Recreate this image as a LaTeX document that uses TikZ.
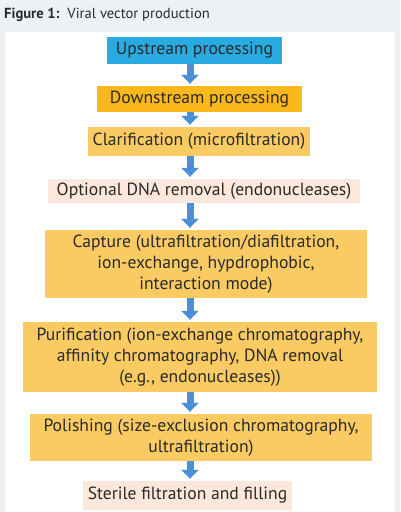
\documentclass[tikz,border=0pt]{standalone}
\usepackage{fontspec}
\setmainfont{PT Sans}
\usetikzlibrary{arrows.meta}
\definecolor{bgc}{HTML}{EDF1F6}
\definecolor{upc}{HTML}{29AAE1}
\definecolor{downc}{HTML}{FBB81C}
\definecolor{stepc}{HTML}{F9CB62}
\definecolor{peachc}{HTML}{FCE8DA}
\definecolor{arrc}{HTML}{4A8FD8}
\definecolor{txtc}{HTML}{2A2A2A}
\tikzset{
  box/.style={rectangle, inner sep=0pt, align=center, text=txtc, font=\fontsize{17.6}{21}\selectfont},
  flow/.style={arrc, line width=7pt, -{Triangle[width=17pt,length=9pt]}, shorten >=2pt},
}
\begin{document}
\begin{tikzpicture}[x=1pt,y=-1pt]
\fill[bgc] (0,0) rectangle (400,512);
\useasboundingbox (0,0) rectangle (400,512);
\fill[white] (5,32) rectangle (395,512);
\node[anchor=west, text=txtc, font=\fontsize{14.6}{16}\selectfont, inner sep=0pt] (title) at (4,15) {\textbf{Figure 1:}\ \ Viral vector production};
\node[box, fill=upc, minimum width=175, minimum height=27] (up) at (194.5,50.5) {Upstream processing};
\node[box, fill=downc, minimum width=205, minimum height=26] (down) at (199.5,99) {Downstream processing};
\node[box, fill=stepc, minimum width=222, minimum height=29] (clar) at (199,141.5) {Clarification (microfiltration)};
\node[box, fill=peachc, minimum width=312, minimum height=24] (dna) at (204,191) {Optional DNA removal (endonucleases)};
\node[box, fill=stepc, minimum width=322, minimum height=68] (cap) at (206,264) {Capture (ultrafiltration/diafiltration,\\ion-exchange, hypdrophobic,\\interaction mode)};
\node[box, fill=stepc, minimum width=354, minimum height=70] (pur) at (200,357) {Purification (ion-exchange chromatography,\\affinity chromatography, DNA removal\\(e.g., endonucleases))};
\node[box, fill=stepc, minimum width=342, minimum height=47] (pol) at (201,437.5) {Polishing (size-exclusion chromatography,\\ultrafiltration)};
\node[box, fill=peachc, minimum width=209, minimum height=29] (ster) at (187.5,495.5) {Sterile filtration and filling};
\coordinate (ax) at (190,0);
\foreach \a/\b in {up/down, down/clar, clar/dna, dna/cap, cap/pur, pur/pol, pol/ster}
  \draw[flow] (\a.south -| ax) -- (\b.north -| ax);
\end{tikzpicture}
\end{document}
